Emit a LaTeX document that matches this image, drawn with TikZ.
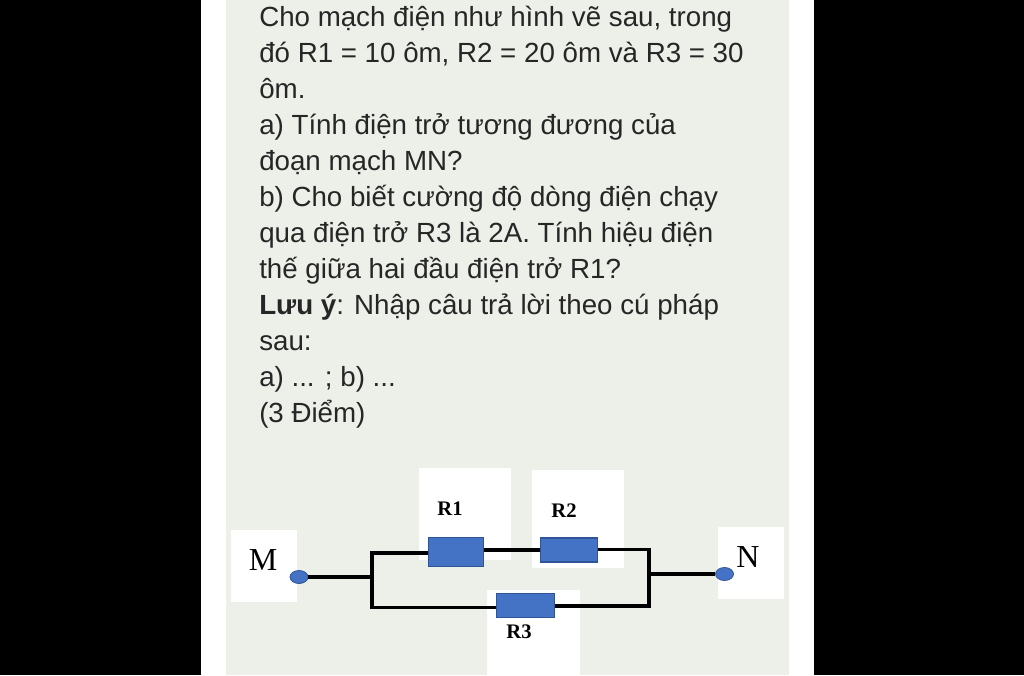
\documentclass[tikz,border=0pt]{standalone}
\usepackage{fontspec}
\setmainfont{Liberation Sans}
\newfontfamily\serifpart{Liberation Serif}
\definecolor{pagegreen}{RGB}{237,240,233}
\definecolor{resblue}{RGB}{68,114,196}
\definecolor{resedge}{RGB}{47,85,151}
\definecolor{textgray}{RGB}{38,38,38}
\tikzset{
  textline/.style={anchor=base west,inner sep=0pt,text=textgray,font=\fontsize{20.78}{24}\selectfont},
  wire/.style={line width=2.4pt,black},
  resistor/.style={draw=resedge,fill=resblue,line width=0.8pt,inner sep=0pt},
  terminal/.style={ellipse,draw=resedge,fill=resblue,line width=0.6pt,inner sep=0pt,minimum width=13.5pt,minimum height=9.75pt},
  reslabel/.style={font=\serifpart\bfseries\fontsize{15.5}{18}\selectfont,inner sep=0pt},
  endlabel/.style={font=\serifpart\fontsize{24}{28}\selectfont,inner sep=0pt}
}
\usetikzlibrary{shapes.geometric}
\begin{document}
\begin{tikzpicture}[x=0.75pt,y=-0.75pt]
  \useasboundingbox (0,0) rectangle (1024,675);
  % page
  \fill[black] (0,0) rectangle (1024,675);
  \fill[white] (201,0) rectangle (814,675);
  \fill[pagegreen] (226,0) rectangle (789,675);
  % text
  \node[textline] (line1) at (259,26.5) {Cho mạch điện như hình vẽ sau, trong};
  \node[textline] (line2) at (259,62.5) {đó R1 = 10 ôm, R2 = 20 ôm và R3 = 30};
  \node[textline] (line3) at (259,98.5) {ôm.};
  \node[textline] (line4) at (259,134.5) {a) Tính điện trở tương đương của};
  \node[textline] (line5) at (259,170.5) {đoạn mạch MN?};
  \node[textline] (line6) at (259,206.5) {b) Cho biết cường độ dòng điện chạy};
  \node[textline] (line7) at (259,242.5) {qua điện trở R3 là 2A. Tính hiệu điện};
  \node[textline] (line8) at (259,278.5) {thế giữa hai đầu điện trở R1?};
  \node[textline] (line9) at (259,314.5) {\textbf{Lưu ý}: Nhập câu trả lời theo cú pháp};
  \node[textline] (line10) at (259,350.5) {sau:};
  \node[textline] (line11) at (259,386.5) {a) ... ; b) ...};
  \node[textline] (line12) at (259,422.5) {(3 Điểm)};
  % white patches behind the labels
  \fill[white] (231,530) rectangle (297,602);
  \fill[white] (419,468) rectangle (511,560);
  \fill[white] (532,470) rectangle (624,568);
  \fill[white] (487,590) rectangle (580,675);
  \fill[white] (718,527) rectangle (784,599);
  % circuit
  \node[terminal] (M) at (299,577) {};
  \node[terminal] (N) at (724.5,574) {};
  \node[resistor,minimum width=41.5pt,minimum height=22pt] (R1) at (456,552) {};
  \node[resistor,minimum width=42.5pt,minimum height=18pt] (R2) at (569,550) {};
  \node[resistor,minimum width=44pt,minimum height=18.5pt] (R3) at (525.5,605.5) {};
  \coordinate (jl) at (372,577);
  \coordinate (jr) at (649,574);
  \coordinate (tl) at (372,553);
  \coordinate (tr) at (649,549.5);
  \coordinate (bl) at (372,607.5);
  \coordinate (br) at (649,606);
  \draw[wire] (M) -- (jl);
  \draw[wire] (jr) -- (N);
  \draw[wire,line join=miter] (R1.west |- tl) -- (tl) -- (bl) -- (bl -| R3.west);
  \draw[wire] (R1.east |- R2.west) -- (R2.west);
  \draw[wire] (R2.east |- tr) -- (tr) -- (br) -- (br -| R3.east);
  \node[reslabel] (labelR1) at (450,509) {R1};
  \node[reslabel] (labelR2) at (564,511) {R2};
  \node[reslabel] (labelR3) at (519,632) {R3};
  \node[endlabel] (labelM) at (263,560) {M};
  \node[endlabel] (labelN) at (748,557) {N};
\end{tikzpicture}
\end{document}
